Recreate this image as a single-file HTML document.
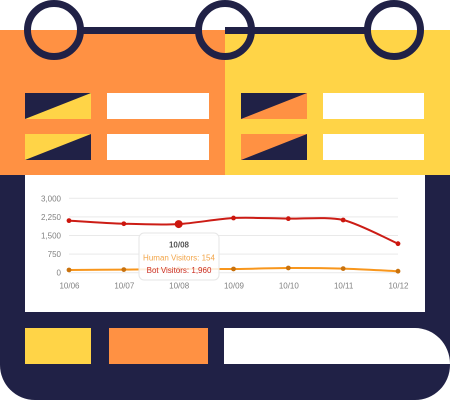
<!DOCTYPE html>
<html lang="en">
<head>
<meta charset="utf-8">
<title>Calendar chart illustration</title>
<style>
html,body{margin:0;padding:0;background:#fff;width:451px;height:400px;overflow:hidden}
svg{display:block}
text{font-family:"Liberation Sans",sans-serif}
</style>
</head>
<body>
<svg id="art" xmlns="http://www.w3.org/2000/svg" width="451" height="400" viewBox="0 0 451 400">
  <defs>
    <filter id="soft" x="-5%" y="-5%" width="110%" height="110%"><feGaussianBlur stdDeviation="0.3"/></filter>
  </defs>
  <path d="M0 175H450V365A35 35 0 0 1 415 400H35A35 35 0 0 1 0 365Z" fill="#202146"/>
  <rect x="0" y="30" width="225" height="145" fill="#ff9143"/>
  <rect x="225" y="30" width="225" height="145" fill="#ffd447"/>

  <rect x="80" y="27" width="118" height="7" fill="#202146"/>
  <rect x="225" y="27" width="142" height="7" fill="#202146"/>
  <circle cx="54" cy="30" r="26.5" fill="none" stroke="#202146" stroke-width="7"/>
  <circle cx="225" cy="30" r="26.5" fill="none" stroke="#202146" stroke-width="7"/>
  <circle cx="394" cy="30" r="26.5" fill="none" stroke="#202146" stroke-width="7"/>

  <g>
    <rect x="25" y="93" width="66" height="26" fill="#ffd447"/>
    <polygon points="25,93 91,93 25,119" fill="#202146"/>
    <rect x="107" y="93" width="102" height="26" fill="#fff"/>
  </g>
  <g>
    <rect x="25" y="134" width="66" height="26" fill="#202146"/>
    <polygon points="25,134 91,134 25,160" fill="#ffd447"/>
    <rect x="107" y="134" width="102" height="26" fill="#fff"/>
  </g>
  <g>
    <rect x="241" y="93" width="66" height="26" fill="#ff9143"/>
    <polygon points="241,93 307,93 241,119" fill="#202146"/>
    <rect x="323" y="93" width="101" height="26" fill="#fff"/>
  </g>
  <g>
    <rect x="241" y="134" width="66" height="26" fill="#202146"/>
    <polygon points="241,134 307,134 241,160" fill="#ff9143"/>
    <rect x="323" y="134" width="101" height="26" fill="#fff"/>
  </g>

  <rect x="25" y="175" width="400" height="137" fill="#fff"/>
  <g id="chart" filter="url(#soft)"></g>

  <rect x="25" y="328" width="66" height="36" fill="#ffd447"/>
  <rect x="109" y="328" width="99" height="36" fill="#ff9143"/>
  <path d="M224 328H415A35 36 0 0 1 450 364H224Z" fill="#fff"/>
</svg>
<script>
const categories = ['10/06','10/07','10/08','10/09','10/10','10/11','10/12'];
const botVisitors = [2100,1975,1960,2205,2180,2125,1170];
const humanVisitors = [110,125,154,150,190,165,60];
const yTicks = [0,750,1500,2250,3000];
const activeIndex = 2;

const NS = 'http://www.w3.org/2000/svg';
const chart = document.getElementById('chart');
const yMax = yTicks[yTicks.length - 1];
const xScale = i => 69 + i * (398 - 69) / (categories.length - 1);
const yScale = v => 272.7 - v * 74.4 / yMax;
const fmt = v => v.toLocaleString('en-US');

function make(tag, attrs, parent) {
  const el = document.createElementNS(NS, tag);
  for (const k in attrs) el.setAttribute(k, attrs[k]);
  (parent || chart).appendChild(el);
  return el;
}

function smoothPath(values) {
  const p = values.map((v, i) => [xScale(i), yScale(v)]);
  let d = 'M' + p[0][0] + ' ' + p[0][1];
  for (let i = 0; i < p.length - 1; i++) {
    const a = p[Math.max(i - 1, 0)], b = p[i], c = p[i + 1], e = p[Math.min(i + 2, p.length - 1)];
    const t = 0.14;
    d += 'C' + (b[0] + (c[0] - a[0]) * t) + ' ' + (b[1] + (c[1] - a[1]) * t) + ' ' +
         (c[0] - (e[0] - b[0]) * t) + ' ' + (c[1] - (e[1] - b[1]) * t) + ' ' + c[0] + ' ' + c[1];
  }
  return d;
}

yTicks.forEach(t => {
  const line = make('line', {x1: 69, x2: 398, y1: yScale(t), y2: yScale(t), stroke: '#e9e9e9', 'stroke-width': 1});
  
  
  const label = make('text', {x: 61, y: yScale(t) + 3, 'text-anchor': 'end', 'font-size': 8, fill: '#808080'});
  
  
  label.textContent = fmt(t);
});

categories.forEach((c, i) => {
  const label = make('text', {x: xScale(i) + 0.5, y: 288.5, 'text-anchor': 'middle', 'font-size': 8, fill: '#808080'});
  
  
  label.textContent = c;
});

const humanLine = make('path', {d: smoothPath(humanVisitors), fill: 'none', stroke: '#f8961a', 'stroke-width': 2});


humanVisitors.forEach((v, i) => {
  const pt = make('circle', {cx: xScale(i), cy: yScale(v), r: 2.4, fill: '#c9720f'});
  
  
});

const botLine = make('path', {d: smoothPath(botVisitors), fill: 'none', stroke: '#cc1f14', 'stroke-width': 2});


botVisitors.forEach((v, i) => {
  const pt = make('circle', {cx: xScale(i), cy: yScale(v), r: i === activeIndex ? 4 : 2.4, fill: '#cc150b'});
  
  
});

const tip = make('g', {});


make('rect', {x: 139, y: 233, width: 80, height: 47, rx: 5, fill: 'rgba(255,255,255,0.85)', stroke: '#e6e6e6', 'stroke-width': 1}, tip);
const tipTitle = make('text', {x: 179, y: 247.5, 'text-anchor': 'middle', 'font-size': 8, 'font-weight': 'bold', fill: '#555'}, tip);


tipTitle.textContent = categories[activeIndex];
const tipHuman = make('text', {x: 179, y: 260.5, 'text-anchor': 'middle', 'font-size': 8, fill: '#f2a548'}, tip);


tipHuman.textContent = 'Human Visitors: ' + fmt(humanVisitors[activeIndex]);
const tipBot = make('text', {x: 179, y: 273, 'text-anchor': 'middle', 'font-size': 8, fill: '#cc2f24'}, tip);


tipBot.textContent = 'Bot Visitors: ' + fmt(botVisitors[activeIndex]);
</script>
</body>
</html>
